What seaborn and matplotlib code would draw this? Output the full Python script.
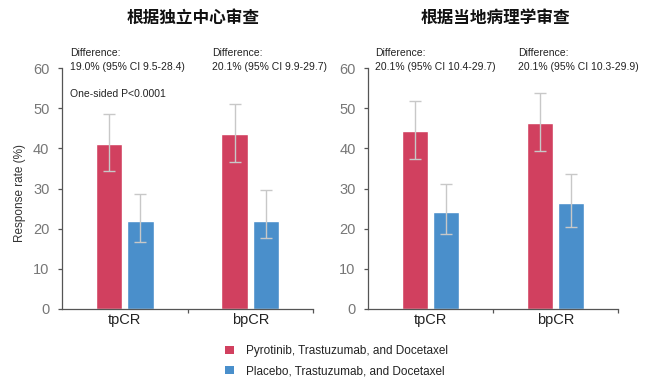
import matplotlib
matplotlib.use("Agg")
import matplotlib.pyplot as plt
from matplotlib.patches import Patch
import seaborn as sns
import pandas as pd
import numpy as np

# ---- data ----
categories = ["tpCR", "bpCR"]
arms = ["Pyrotinib, Trastuzumab, and Docetaxel", "Placebo, Trastuzumab, and Docetaxel"]

panel_titles = ["根据独立中心审查", "根据当地病理学审查"]

# independent central review
icr_pyro = [41.0, 43.6]
icr_pyro_lo = [34.4, 36.6]
icr_pyro_hi = [48.5, 51.0]
icr_plac = [22.0, 22.0]
icr_plac_lo = [16.6, 17.6]
icr_plac_hi = [28.6, 29.7]

# local pathology review
loc_pyro = [44.2, 46.4]
loc_pyro_lo = [37.3, 39.3]
loc_pyro_hi = [51.9, 53.8]
loc_plac = [24.1, 26.5]
loc_plac_lo = [18.6, 20.4]
loc_plac_hi = [31.1, 33.5]

icr_notes = ["Difference:\n19.0% (95% CI 9.5-28.4)", "Difference:\n20.1% (95% CI 9.9-29.7)"]
loc_notes = ["Difference:\n20.1% (95% CI 10.4-29.7)", "Difference:\n20.1% (95% CI 10.3-29.9)"]
pvalue_note = "One-sided P<0.0001"

y_ticks = [0, 10, 20, 30, 40, 50, 60]
ylabel = "Response rate (%)"

colors = ["#D1405F", "#4A8FCB"]

# ---- style ----
sns.set_style("ticks")
plt.rcParams["font.family"] = ["Liberation Sans", "Noto Sans CJK SC", "DejaVu Sans"]

W, H = 660, 386
fig = plt.figure(figsize=(W / 100, H / 100), dpi=100)

def px_ax(x0, x1, ytop, ybot):
    return fig.add_axes([x0 / W, 1 - ybot / H, (x1 - x0) / W, (ybot - ytop) / H])

ax_l = px_ax(62, 313, 68, 309)
ax_r = px_ax(368, 618, 68, 309)

panels = [
    (ax_l, [icr_pyro, icr_plac], [icr_pyro_lo, icr_plac_lo], [icr_pyro_hi, icr_plac_hi]),
    (ax_r, [loc_pyro, loc_plac], [loc_pyro_lo, loc_plac_lo], [loc_pyro_hi, loc_plac_hi]),
]

for ax, vals, los, his in panels:
    rows = []
    for a, arm in enumerate(arms):
        for c, cat in enumerate(categories):
            rows.append({"endpoint": cat, "arm": arm, "rate": vals[a][c]})
    df = pd.DataFrame(rows)
    sns.barplot(data=df, x="endpoint", y="rate", hue="arm", order=categories,
                hue_order=arms, palette=colors, width=0.5, gap=0.15,
                saturation=1, legend=False, ax=ax, errorbar=None)
    bar_conts = list(ax.containers)
    for a, cont in enumerate(bar_conts):
        xs = [p.get_x() + p.get_width() / 2 for p in cont]
        ys = np.array(vals[a])
        lo = np.array(los[a])
        hi = np.array(his[a])
        ax.errorbar(xs, ys, yerr=[ys - lo, hi - ys], fmt="none", ecolor="#c8c8c8",
                    elinewidth=1.0, capsize=4, capthick=1.0, zorder=5)
    ax.set_xlim(-0.5, 1.5)
    ax.set_ylim(0, 60)
    ax.set_yticks(y_ticks)
    ax.set_xlabel("")
    ax.set_ylabel("")
    for s in ["top", "right"]:
        ax.spines[s].set_visible(False)
    for s in ["left", "bottom"]:
        ax.spines[s].set_color("#555555")
        ax.spines[s].set_linewidth(0.9)
    ax.tick_params(axis="y", length=3, width=0.9, color="#555555", pad=6,
                   labelsize=10.5, labelcolor="#777777")
    ax.tick_params(axis="x", which="major", length=0, pad=3, labelsize=10.5,
                   labelcolor="#222222")
    ax.set_xticks([0.5, 1.5], minor=True)
    ax.tick_params(axis="x", which="minor", length=3, width=0.9, color="#555555")

ax_l.set_ylabel(ylabel, fontsize=8.5, color="#333333")
ax_l.yaxis.set_label_coords((26 - 62) / 251, 0.483)

# titles
fig.text(193 / W, 1 - 17.5 / H, panel_titles[0], ha="center", va="center",
         fontsize=12, fontweight="bold", family=["Noto Sans CJK SC"], color="#111111")
fig.text(495 / W, 1 - 17.5 / H, panel_titles[1], ha="center", va="center",
         fontsize=12, fontweight="bold", family=["Noto Sans CJK SC"], color="#111111")

# annotations
note_kw = dict(ha="left", va="top", fontsize=7.5, color="#222222", linespacing=1.45)
fig.text(70 / W, 1 - 48 / H, icr_notes[0], **note_kw)
fig.text(212 / W, 1 - 48 / H, icr_notes[1], **note_kw)
fig.text(375 / W, 1 - 48 / H, loc_notes[0], **note_kw)
fig.text(518 / W, 1 - 48 / H, loc_notes[1], **note_kw)
fig.text(70 / W, 1 - 89 / H, pvalue_note, **note_kw)

# legend
handles = [Patch(facecolor=colors[i], edgecolor="none", label=arms[i]) for i in range(2)]
fig.legend(handles=handles, loc="upper left", bbox_to_anchor=(225 / W, 1 - 345 / H),
           frameon=False, fontsize=8.5, handlelength=0.75, handleheight=0.75,
           handletextpad=1.0, labelspacing=0.7, borderpad=0, borderaxespad=0,
           labelcolor="#222222")

fig.savefig("out.png", dpi=100)
